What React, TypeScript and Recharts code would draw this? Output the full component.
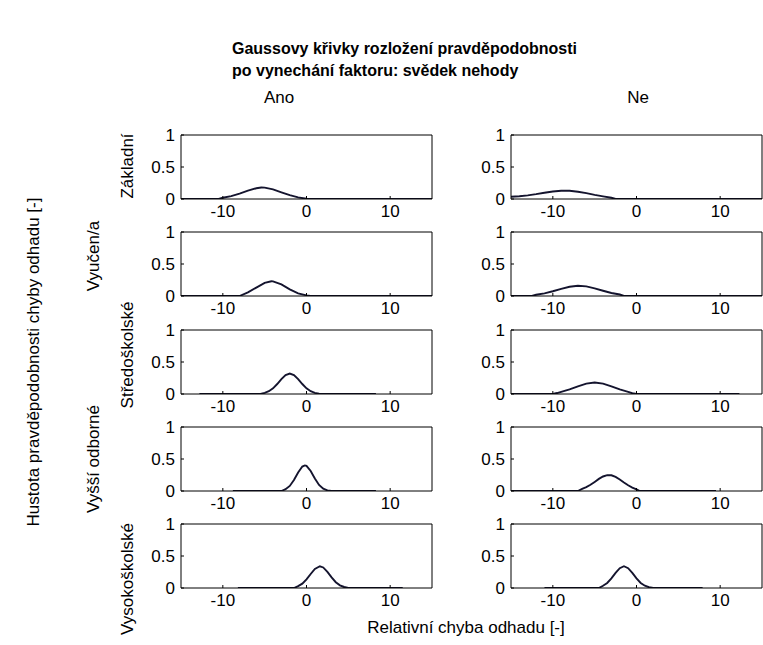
import React from 'react';
import { LineChart, Line, XAxis, YAxis } from 'recharts';

// ---- labels / categories ----
const titleLines = ['Gaussovy křivky rozložení pravděpodobnosti', 'po vynechání faktoru: svědek nehody'];
const colLabels = ['Ano', 'Ne'];
const rowLabels = ['Základní', 'Vyučen/a', 'Středoškolské', 'Vyšší odborné', 'Vysokoškolské'];
const xLabel = 'Relativní chyba odhadu [-]';
const yLabel = 'Hustota pravděpodobnosti chyby odhadu [-]';
const xTicks = [-10, 0, 10];
const yTicks = [0, 0.5, 1];

// ---- series values: [relative error, density] ----
const anoZakladni: [number, number][] = [[-15, 0], [-10.5, 0], [-10, 0.02], [-9, 0.045], [-8, 0.085], [-7, 0.13], [-6, 0.168], [-5.4, 0.18], [-5, 0.177], [-4, 0.15], [-3, 0.105], [-2, 0.06], [-1, 0.026], [0, 0.004], [0.5, 0], [15, 0]];
const anoVyucen: [number, number][] = [[-15, 0], [-8, 0], [-7, 0.058], [-6, 0.132], [-5, 0.205], [-4.2, 0.23], [-4, 0.228], [-3, 0.18], [-2, 0.103], [-1, 0.042], [0, 0.01], [0.5, 0], [15, 0]];
const anoStredo: [number, number][] = [[-12.8, 0], [-5.5, 0], [-5, 0.018], [-4.5, 0.043], [-4, 0.089], [-3.5, 0.156], [-3, 0.232], [-2.5, 0.295], [-2, 0.32], [-1.5, 0.295], [-1, 0.232], [-0.5, 0.156], [0, 0.089], [0.5, 0.043], [1, 0.018], [1.5, 0.005], [2, 0], [8.3, 0]];
const anoVyssi: [number, number][] = [[-8.8, 0], [-3, 0], [-2.5, 0.028], [-2, 0.079], [-1.5, 0.172], [-1, 0.29], [-0.5, 0.382], [-0.2, 0.4], [0, 0.392], [0.5, 0.313], [1, 0.195], [1.5, 0.094], [2, 0.036], [2.5, 0.01], [3, 0], [8.3, 0]];
const anoVysoko: [number, number][] = [[-8.2, 0], [-1.5, 0], [-1, 0.029], [-0.5, 0.068], [0, 0.134], [0.5, 0.219], [1, 0.298], [1.6, 0.34], [2, 0.321], [2.5, 0.253], [3, 0.166], [3.5, 0.091], [4, 0.042], [4.5, 0.016], [5, 0], [11.5, 0]];

const neZakladni: [number, number][] = [[-15, 0.035], [-14, 0.043], [-13, 0.057], [-12, 0.076], [-11, 0.098], [-10, 0.117], [-9, 0.129], [-8, 0.128], [-7, 0.113], [-6, 0.091], [-5, 0.065], [-4, 0.042], [-3, 0.02], [-2.5, 0], [15, 0]];
const neVyucen: [number, number][] = [[-15, 0], [-12.5, 0], [-12, 0.02], [-11, 0.042], [-10, 0.074], [-9, 0.112], [-8, 0.145], [-7, 0.16], [-6, 0.15], [-5, 0.12], [-4, 0.082], [-3, 0.047], [-2, 0.023], [-1.5, 0], [15, 0]];
const neStredo: [number, number][] = [[-15, 0], [-10, 0], [-9.5, 0.015], [-9, 0.034], [-8, 0.071], [-7, 0.119], [-6, 0.162], [-5, 0.18], [-4, 0.162], [-3, 0.119], [-2, 0.071], [-1, 0.034], [-0.5, 0.012], [0, 0], [12.3, 0]];
const neVyssi: [number, number][] = [[-15, 0], [-7, 0], [-6.5, 0.034], [-6, 0.06], [-5.5, 0.097], [-5, 0.142], [-4.5, 0.189], [-4, 0.227], [-3.5, 0.248], [-3, 0.246], [-2.5, 0.22], [-2, 0.18], [-1.5, 0.133], [-1, 0.089], [-0.5, 0.054], [0, 0.025], [0.4, 0], [9.5, 0]];
const neVysoko: [number, number][] = [[-11, 0], [-4.5, 0], [-4, 0.035], [-3.5, 0.079], [-3, 0.15], [-2.5, 0.236], [-2, 0.31], [-1.5, 0.34], [-1, 0.31], [-0.5, 0.236], [0, 0.15], [0.5, 0.079], [1, 0.035], [1.5, 0.012], [2, 0], [7.9, 0]];

const panels: [number, number][][][] = [
  [anoZakladni, neZakladni],
  [anoVyucen, neVyucen],
  [anoStredo, neStredo],
  [anoVyssi, neVyssi],
  [anoVysoko, neVysoko],
];

// ---- layout ----
const FONT = '"Liberation Sans", Arial, Helvetica, sans-serif';
const PLOT_W = 251;
const PLOT_H = 64;
const Y_AXIS_W = 60;
const X_AXIS_H = 28;
const TOP_PAD = 12;
const plotLefts = [181, 511];
const plotTops = [135, 232, 330, 427, 524];
const rowLabelPos = [[127, 166], [93, 256], [127, 355], [93, 459], [127, 579]];
const colLabelPos = [[279, 103], [638, 103]];

const tickStyle = { fill: '#000', fontSize: 17, fontFamily: FONT };

function Panel({ points, left, top }: { points: [number, number][]; left: number; top: number }) {
  const data = points.map(([x, y]) => ({ x, y }));
  return (
    <div style={{ position: 'absolute', left: left - Y_AXIS_W, top: top - 1 - TOP_PAD }}>
      <LineChart
        width={Y_AXIS_W + PLOT_W + 1}
        height={TOP_PAD + 1 + PLOT_H + X_AXIS_H}
        data={data}
        margin={{ top: TOP_PAD, right: 0, bottom: 0, left: 0 }}
        style={{ overflow: 'visible' }}
      >
        <XAxis
          xAxisId="b"
          dataKey="x"
          type="number"
          domain={[-15, 15]}
          ticks={xTicks}
          allowDataOverflow
          orientation="bottom"
          height={X_AXIS_H}
          tickSize={-3}
          tickMargin={9}
          stroke="#000"
          tick={tickStyle}
          interval={0}
        />
        <XAxis
          xAxisId="t"
          dataKey="x"
          type="number"
          domain={[-15, 15]}
          ticks={xTicks}
          allowDataOverflow
          orientation="top"
          height={1}
          tickSize={-3}
          tick={false}
          stroke="#000"
          interval={0}
        />
        <YAxis
          yAxisId="l"
          type="number"
          domain={[0, 1]}
          ticks={yTicks}
          allowDataOverflow
          width={Y_AXIS_W}
          tickSize={-3}
          tickMargin={9}
          stroke="#000"
          tick={tickStyle}
          interval={0}
        />
        <YAxis
          yAxisId="r"
          orientation="right"
          type="number"
          domain={[0, 1]}
          ticks={yTicks}
          allowDataOverflow
          width={1}
          tickSize={-3}
          tick={false}
          stroke="#000"
          interval={0}
        />
        <Line
          xAxisId="b"
          yAxisId="l"
          dataKey="y"
          type="linear"
          stroke="#14142e"
          strokeWidth={1.9}
          dot={false}
          isAnimationActive={false}
        />
      </LineChart>
    </div>
  );
}

export default function App() {
  return (
    <div style={{ position: 'absolute', left: 0, top: 0, width: 763, height: 645, background: '#fff', overflow: 'hidden' }}>
      {panels.map((row, r) =>
        row.map((pts, c) => <Panel key={`${r}-${c}`} points={pts} left={plotLefts[c]} top={plotTops[r]} />)
      )}
      <svg width={763} height={645} style={{ position: 'absolute', left: 0, top: 0, pointerEvents: 'none' }}>
        <g fontFamily={FONT} fill="#000">
          <text x={232} y={54} fontSize={16} fontWeight="bold">{titleLines[0]}</text>
          <text x={232} y={76} fontSize={16} fontWeight="bold">{titleLines[1]}</text>
          {colLabels.map((t, i) => (
            <text key={t} x={colLabelPos[i][0]} y={colLabelPos[i][1]} fontSize={17} textAnchor="middle">{t}</text>
          ))}
          {rowLabels.map((t, i) => (
            <text
              key={t}
              x={rowLabelPos[i][0]}
              y={rowLabelPos[i][1]}
              fontSize={17}
              textAnchor="middle"
              dominantBaseline="central"
              transform={`rotate(-90 ${rowLabelPos[i][0]} ${rowLabelPos[i][1]})`}
            >
              {t}
            </text>
          ))}
          <text
            x={33}
            y={362}
            fontSize={17}
            textAnchor="middle"
            dominantBaseline="central"
            transform="rotate(-90 33 362)"
          >
            {yLabel}
          </text>
          <text x={466} y={633} fontSize={17} textAnchor="middle">{xLabel}</text>
        </g>
      </svg>
    </div>
  );
}
